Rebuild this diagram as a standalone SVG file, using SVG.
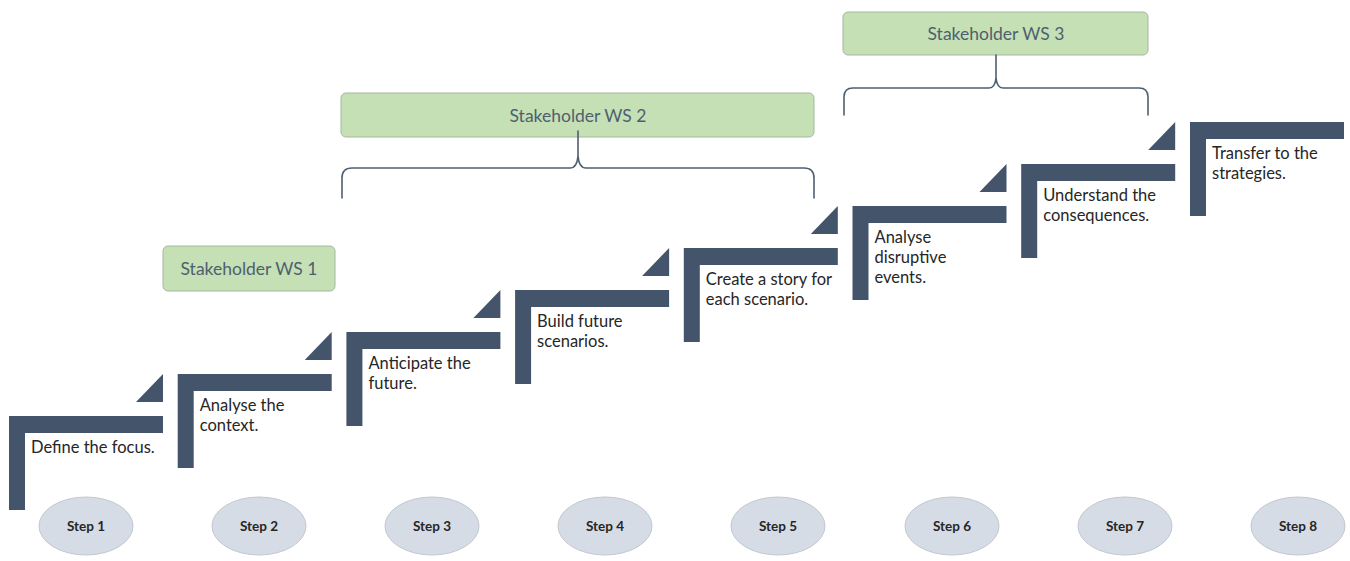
<svg xmlns="http://www.w3.org/2000/svg" width="1350" height="561" viewBox="0 0 1350 561">
  <style>
    .stair { fill: #44546a; }
    .desc { font-family: Lato, "Liberation Sans", sans-serif; font-size: 16.5px; fill: #262626; }
    .oval { fill: #d6dce5; stroke: #c3c8d0; stroke-width: 1; }
    .steplbl { font-family: Lato, "Liberation Sans", sans-serif; font-size: 13.5px; font-weight: bold; fill: #262626; text-anchor: middle; }
    .ws { fill: #c5e0b4; stroke: #a6b7a0; stroke-width: 1; }
    .wslbl { font-family: Lato, "Liberation Sans", sans-serif; font-size: 17.5px; fill: #4e5f6f; text-anchor: middle; }
    .brace { fill: none; stroke: #4e6070; stroke-width: 1.6; stroke-linecap: round; stroke-linejoin: round; }
  </style>
  <defs>
    <!-- one stair step: an inverted L bar -->
    <path id="ell" d="M0,0 H154 V17 H16 V94 H0 Z"/>
    <!-- small wedge leading up to the next step -->
    <path id="wedge" d="M154,-42 V-14 H127 Z"/>
  </defs>
  <rect width="1350" height="561" fill="#ffffff"/>

  <!-- stairway of steps -->
  <g id="step1-stair" transform="translate(9,416)">
    <use href="#ell" class="stair"/><use href="#wedge" class="stair"/>
    <text class="desc" x="22" y="37">Define the focus.</text>
  </g>
  <g id="step2-stair" transform="translate(177.7,374)">
    <use href="#ell" class="stair"/><use href="#wedge" class="stair"/>
    <text class="desc" x="22" y="37">Analyse the</text>
    <text class="desc" x="22" y="57">context.</text>
  </g>
  <g id="step3-stair" transform="translate(346.4,332)">
    <use href="#ell" class="stair"/><use href="#wedge" class="stair"/>
    <text class="desc" x="22" y="37">Anticipate the</text>
    <text class="desc" x="22" y="57">future.</text>
  </g>
  <g id="step4-stair" transform="translate(515.1,290)">
    <use href="#ell" class="stair"/><use href="#wedge" class="stair"/>
    <text class="desc" x="22" y="37">Build future</text>
    <text class="desc" x="22" y="57">scenarios.</text>
  </g>
  <g id="step5-stair" transform="translate(683.8,248)">
    <use href="#ell" class="stair"/><use href="#wedge" class="stair"/>
    <text class="desc" x="22" y="37">Create a story for</text>
    <text class="desc" x="22" y="57">each scenario.</text>
  </g>
  <g id="step6-stair" transform="translate(852.5,206)">
    <use href="#ell" class="stair"/><use href="#wedge" class="stair"/>
    <text class="desc" x="22" y="37">Analyse</text>
    <text class="desc" x="22" y="57">disruptive</text>
    <text class="desc" x="22" y="77">events.</text>
  </g>
  <g id="step7-stair" transform="translate(1021.2,164)">
    <use href="#ell" class="stair"/><use href="#wedge" class="stair"/>
    <text class="desc" x="22" y="37">Understand the</text>
    <text class="desc" x="22" y="57">consequences.</text>
  </g>
  <g id="step8-stair" transform="translate(1190,122)">
    <use href="#ell" class="stair"/>
    <text class="desc" x="22" y="37">Transfer to the</text>
    <text class="desc" x="22" y="57">strategies.</text>
  </g>

  <!-- step number ovals -->
  <g id="step1"><ellipse class="oval" cx="86" cy="526" rx="47" ry="29"/><text class="steplbl" x="86" y="531">Step 1</text></g>
  <g id="step2"><ellipse class="oval" cx="259" cy="526" rx="47" ry="29"/><text class="steplbl" x="259" y="531">Step 2</text></g>
  <g id="step3"><ellipse class="oval" cx="432" cy="526" rx="47" ry="29"/><text class="steplbl" x="432" y="531">Step 3</text></g>
  <g id="step4"><ellipse class="oval" cx="605" cy="526" rx="47" ry="29"/><text class="steplbl" x="605" y="531">Step 4</text></g>
  <g id="step5"><ellipse class="oval" cx="778" cy="526" rx="47" ry="29"/><text class="steplbl" x="778" y="531">Step 5</text></g>
  <g id="step6"><ellipse class="oval" cx="952" cy="526" rx="47" ry="29"/><text class="steplbl" x="952" y="531">Step 6</text></g>
  <g id="step7"><ellipse class="oval" cx="1125" cy="526" rx="47" ry="29"/><text class="steplbl" x="1125" y="531">Step 7</text></g>
  <g id="step8"><ellipse class="oval" cx="1298" cy="526" rx="47" ry="29"/><text class="steplbl" x="1298" y="531">Step 8</text></g>

  <!-- workshop labels -->
  <g id="ws1">
    <rect class="ws" x="163" y="246" width="172" height="45" rx="5"/>
    <text class="wslbl" x="249" y="275">Stakeholder WS 1</text>
  </g>
  <g id="ws2">
    <rect class="ws" x="341" y="93" width="473" height="44" rx="5"/>
    <text class="wslbl" x="578" y="122">Stakeholder WS 2</text>
  </g>
  <g id="ws3">
    <rect class="ws" x="843" y="12" width="305" height="43" rx="5"/>
    <text class="wslbl" x="996" y="40">Stakeholder WS 3</text>
  </g>

  <!-- braces grouping the steps under each workshop -->
  <g id="connectors">
    <path class="brace" d="M342,198 V178 Q342,168 352,168 H570 Q577,168 578,156 V131 M578,156 Q579,168 586,168 H804 Q814,168 814,178 V198"/>
    <path class="brace" d="M844,115 V97 Q844,88 853,88 H989 Q995,88 996,78 V55 M996,78 Q997,88 1003,88 H1139 Q1148,88 1148,97 V115"/>
  </g>
</svg>
